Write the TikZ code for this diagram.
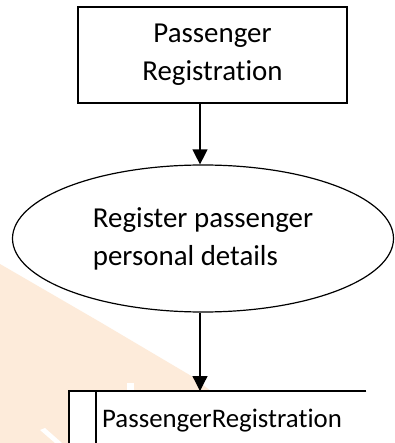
\documentclass[tikz,border=0pt]{standalone}
\usepackage{fontspec}
\setmainfont{Carlito}[Ligatures=NoCommon]
\usetikzlibrary{arrows.meta,shapes.geometric}
\definecolor{peach}{RGB}{253,235,218}
\begin{document}
\begin{tikzpicture}[x=1pt,y=-1pt,
  outline/.style={draw=black, line width=1.2pt},
  bigtext/.style={font=\fontsize{28.9}{38}\selectfont, text=black},
  arr/.style={line width=1.3pt, -{Triangle[width=15pt,length=15pt]}}]
\clip (0,0) rectangle (394,443);
\fill[white] (0,0) rectangle (394,443);
% watermark
\fill[peach] (0,264) -- (100,322) -- (193,377) -- (212,392) -- (212,443) -- (0,443) -- cycle;
\fill[white] (127,383) rectangle (134,392);
\fill[white] (40,430) -- (45,428) -- (62,443) -- (55,443) -- cycle;
% nodes
\node[outline, bigtext, fill=white, minimum width=269pt, minimum height=96pt, align=center] (reg) at (212.5,55) {Passenger\\Registration};
\node[outline, bigtext, ellipse, fill=white, minimum width=381pt, minimum height=147pt, inner sep=0pt, align=left] (ell) at (203,238.5) {Register passenger\\personal details};
\node[fill=white, minimum width=297pt, minimum height=70pt, inner sep=0pt, anchor=north west] (store) at (69,391) {};
\node[font=\fontsize{26.8}{32}\selectfont, anchor=base west, inner sep=0pt] (storetext) at (102,427) {PassengerRegistration};
\coordinate (div) at (96,391);
\coordinate (ax) at (200,0);
% store outline (open on the right)
\draw[outline] (store.north east) -- (store.north west) -- (store.south west);
\draw[outline] (div) -- (div |- store.south);
% connectors
\draw[arr] (reg.south -| ax) -- (ell.north -| ax);
\draw[arr] (ell.south -| ax) -- (store.north -| ax);
\end{tikzpicture}
\end{document}
